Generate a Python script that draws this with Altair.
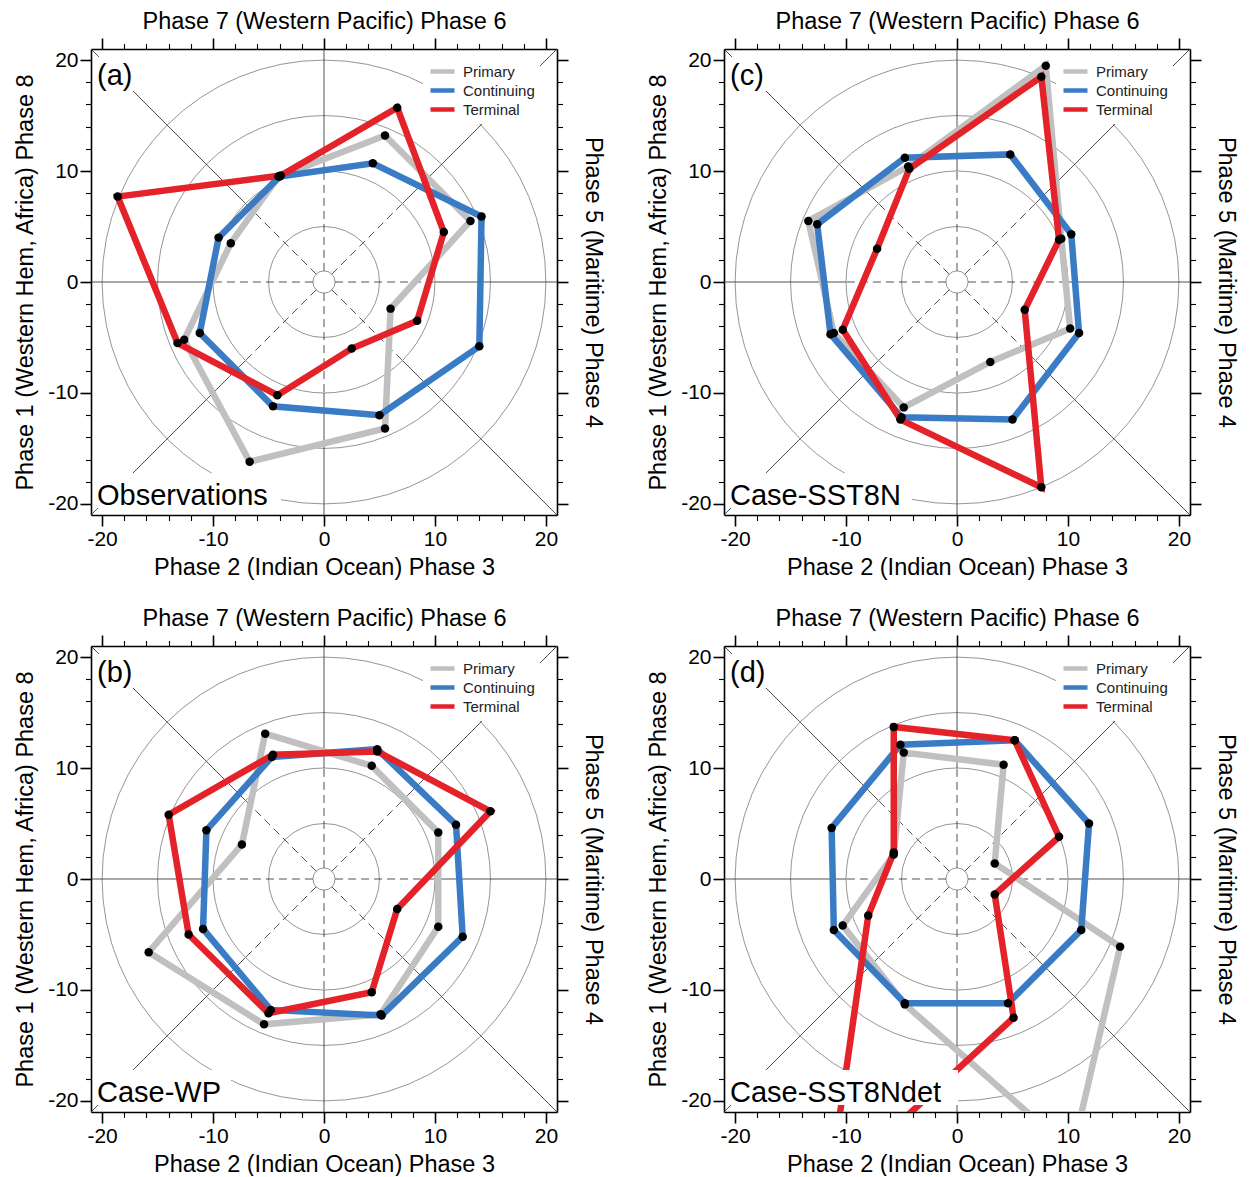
import math
import altair as alt
import pandas as pd

# ---------------- data ----------------
SERIES = ["Primary", "Continuing", "Terminal"]
SERIES_COLORS = ["#c0c0c0", "#3a7bc6", "#e3222a"]
PHASES = [1, 2, 3, 4, 5, 6, 7, 8]

# (a) Observations
A_PRIMARY_X = [-12.6, -6.7, 5.5, 6.0, 13.2, 5.5, -4.1, -8.4]
A_PRIMARY_Y = [-5.2, -16.2, -13.2, -2.4, 5.5, 13.2, 9.5, 3.5]
A_CONT_X = [-11.2, -4.6, 5.0, 14.0, 14.2, 4.4, -4.0, -9.5]
A_CONT_Y = [-4.6, -11.2, -12.0, -5.8, 5.9, 10.7, 9.5, 4.0]
A_TERM_X = [-13.2, -4.2, 2.5, 8.4, 10.8, 6.6, -3.9, -18.6]
A_TERM_Y = [-5.5, -10.2, -6.0, -3.5, 4.5, 15.7, 9.6, 7.7]

# (b) Case-WP
B_PRIMARY_X = [-15.8, -5.4, 5.1, 10.3, 10.3, 4.3, -5.3, -7.4]
B_PRIMARY_Y = [-6.6, -13.1, -12.2, -4.3, 4.2, 10.2, 13.1, 3.1]
B_CONT_X = [-10.9, -4.8, 5.2, 12.5, 11.9, 4.8, -4.7, -10.6]
B_CONT_Y = [-4.5, -11.8, -12.3, -5.2, 4.9, 11.7, 11.0, 4.4]
B_TERM_X = [-12.2, -5.0, 4.3, 6.6, 15.0, 4.8, -4.6, -14.0]
B_TERM_Y = [-5.0, -12.1, -10.2, -2.7, 6.1, 11.5, 11.2, 5.8]

# (c) Case-SST8N
C_PRIMARY_X = [-11.1, -4.8, 3.0, 10.2, 9.4, 8.0, -4.4, -13.4]
C_PRIMARY_Y = [-4.6, -11.3, -7.2, -4.2, 3.9, 19.5, 10.4, 5.5]
C_CONT_X = [-11.4, -5.0, 5.0, 11.0, 10.3, 4.8, -4.7, -12.6]
C_CONT_Y = [-4.7, -12.2, -12.4, -4.6, 4.3, 11.5, 11.2, 5.2]
C_TERM_X = [-10.3, -5.1, 7.6, 6.1, 9.2, 7.6, -4.3, -7.2]
C_TERM_Y = [-4.3, -12.4, -18.5, -2.5, 3.8, 18.5, 10.2, 3.0]

# (d) Case-SST8Ndet
D_PRIMARY_X = [-10.3, -4.7, 10.4, 14.7, 3.4, 4.2, -4.8, -5.7]
D_PRIMARY_Y = [-4.2, -11.3, -24.6, -6.1, 1.4, 10.3, 11.4, 2.2]
D_CONT_X = [-11.1, -4.7, 4.6, 11.2, 11.9, 5.2, -5.1, -11.3]
D_CONT_Y = [-4.6, -11.2, -11.2, -4.6, 5.0, 12.5, 12.1, 4.6]
D_TERM_X = [-8.0, -11.5, 5.1, 3.4, 9.2, 5.2, -5.7, -5.7]
D_TERM_Y = [-3.3, -27.8, -12.5, -1.4, 3.8, 12.5, 13.7, 2.4]

CIRCLE_RADII = [1, 5, 10, 15, 20]
TICK_VALUES = list(range(-20, 21, 2))

X_TITLE = "Phase 2 (Indian Ocean) Phase 3"
TOP_TITLE = "Phase 7 (Western Pacific) Phase 6"
Y_TITLE = "Phase 1 (Western Hem, Africa) Phase 8"
RIGHT_TITLE = "Phase 5 (Maritime) Phase 4"

PANELS = {
    "a": dict(tag="(a)", name="Observations", box=190,
              data=[(A_PRIMARY_X, A_PRIMARY_Y), (A_CONT_X, A_CONT_Y), (A_TERM_X, A_TERM_Y)]),
    "b": dict(tag="(b)", name="Case-WP", box=140,
              data=[(B_PRIMARY_X, B_PRIMARY_Y), (B_CONT_X, B_CONT_Y), (B_TERM_X, B_TERM_Y)]),
    "c": dict(tag="(c)", name="Case-SST8N", box=188,
              data=[(C_PRIMARY_X, C_PRIMARY_Y), (C_CONT_X, C_CONT_Y), (C_TERM_X, C_TERM_Y)]),
    "d": dict(tag="(d)", name="Case-SST8Ndet", box=234,
              data=[(D_PRIMARY_X, D_PRIMARY_Y), (D_CONT_X, D_CONT_Y), (D_TERM_X, D_TERM_Y)]),
}

# ---------------- styling ----------------
FONT = "Liberation Sans"
W = 466
LIM = 21
XS = alt.Scale(domain=[-LIM, LIM], nice=False, zero=False)
YS = alt.Scale(domain=[-LIM, LIM], nice=False, zero=False)
TICK_SIZE = {"condition": {"test": "datum.value % 10 === 0", "value": 11}, "value": 5.5}
TICK_WIDTH = {"condition": {"test": "datum.value % 10 === 0", "value": 1.6}, "value": 1.1}
LABEL_EXPR = "datum.value % 10 === 0 ? '' + datum.value : ''"


def make_axis(orient, title, labels, title_pad):
    kw = dict(orient=orient, values=TICK_VALUES, tickSize=TICK_SIZE, tickWidth=TICK_WIDTH,
              tickColor="black", grid=False, domain=True, domainColor="black", domainWidth=1.6,
              title=title, titleFont=FONT, titleFontSize=23.5, titleFontWeight="normal",
              titleColor="black", titlePadding=title_pad, labels=labels)
    if labels:
        kw.update(labelExpr=LABEL_EXPR, labelOverlap=False, labelFont=FONT, labelFontSize=21,
                  labelColor="black", labelPadding=2, labelFlush=False)
    return alt.Axis(**kw)


DIRS = [(1, 0), (1, 1), (0, 1), (-1, 1), (-1, 0), (-1, -1), (0, -1), (1, -1)]


def guide_frames():
    dash, solid = [], []
    for dx, dy in DIRS:
        n = math.hypot(dx, dy)
        ux, uy = dx / n, dy / n
        dash.append(dict(x1=ux * 1, y1=uy * 1, x2=ux * 10, y2=uy * 10))
        solid.append(dict(x1=ux * 10, y1=uy * 10, x2=dx * LIM, y2=dy * LIM))
    return pd.DataFrame(dash), pd.DataFrame(solid)


def series_frame(data):
    rows = []
    for s, (xv, yv) in zip(SERIES, data):
        for i, (x, y) in enumerate(zip(xv, yv)):
            rows.append(dict(series=s, phase=PHASES[i], order=i, x=x, y=y))
        rows.append(dict(series=s, phase=PHASES[0], order=len(xv), x=xv[0], y=yv[0]))
    return pd.DataFrame(rows)


def panel(key):
    p = PANELS[key]
    df = series_frame(p["data"])
    dash_df, solid_df = guide_frames()

    # reference circles: symbol diameter = sqrt(size); diameter in px = r * W / LIM
    circles = alt.Chart(pd.DataFrame({"r": CIRCLE_RADII})).mark_point(
        shape="circle", filled=False, color="#7a7a7a", strokeWidth=0.8, opacity=1
    ).encode(
        x=alt.XDatum(0, type="quantitative", scale=XS, axis=None),
        y=alt.YDatum(0, type="quantitative", scale=YS, axis=None),
        size=alt.Size("r:Q", scale=alt.Scale(type="pow", exponent=2, domain=[0, LIM],
                                             range=[0, W * W], zero=True), legend=None),
    )

    solid = alt.Chart(solid_df).mark_rule(color="#333333", strokeWidth=0.85).encode(
        x=alt.X("x1:Q", scale=XS, axis=make_axis("bottom", X_TITLE, True, 6)),
        y=alt.Y("y1:Q", scale=YS, axis=make_axis("left", Y_TITLE, True, 10)),
        x2="x2:Q", y2="y2:Q",
    )
    dashed = alt.Chart(dash_df).mark_rule(color="#333333", strokeWidth=0.85, strokeDash=[8, 5]).encode(
        x=alt.X("x1:Q", scale=XS, axis=make_axis("top", TOP_TITLE, False, 4)),
        y=alt.Y("y1:Q", scale=YS, axis=make_axis("right", RIGHT_TITLE, False, 12)),
        x2="x2:Q", y2="y2:Q",
    )

    legend = alt.Legend(orient="none", legendX=332, legendY=8, title=None, fillColor="white",
                        padding=5, symbolType="stroke", symbolSize=576, symbolStrokeWidth=4.5,
                        labelFontSize=15, labelFont=FONT, labelColor="#222222", labelOffset=6,
                        rowPadding=0, clipHeight=19, labelLimit=200)
    color = alt.Color("series:N", scale=alt.Scale(domain=SERIES, range=SERIES_COLORS), legend=legend)

    lines = []
    for s in SERIES:
        lines.append(
            alt.Chart(df).transform_filter(alt.datum.series == s).mark_line(
                strokeWidth=6.5, clip=True, strokeJoin="miter", strokeCap="butt"
            ).encode(
                x=alt.X("x:Q", scale=XS, axis=None),
                y=alt.Y("y:Q", scale=YS, axis=None),
                order="order:Q",
                color=color,
            )
        )

    dots = alt.Chart(df).transform_filter(alt.datum.order < 8).mark_circle(
        color="black", size=72, opacity=1, clip=True
    ).encode(
        x=alt.X("x:Q", scale=XS, axis=None),
        y=alt.Y("y:Q", scale=YS, axis=None),
    )

    lab = pd.DataFrame({"tag": [p["tag"]], "name": [p["name"]]})
    tag_box = alt.Chart(lab).mark_rect(color="white").encode(
        x=alt.value(3), x2=alt.value(43), y=alt.value(8), y2=alt.value(42))
    tag_txt = alt.Chart(lab).mark_text(align="left", baseline="alphabetic", font=FONT,
                                       fontSize=29, color="black").encode(
        x=alt.value(6), y=alt.value(36), text="tag:N")
    name_box = alt.Chart(lab).mark_rect(color="white").encode(
        x=alt.value(3), x2=alt.value(p["box"]), y=alt.value(424), y2=alt.value(459))
    name_txt = alt.Chart(lab).mark_text(align="left", baseline="alphabetic", font=FONT,
                                        fontSize=29, color="black").encode(
        x=alt.value(6), y=alt.value(456), text="name:N")

    return alt.layer(
        circles, solid, dashed, *lines, dots, tag_box, tag_txt, name_box, name_txt
    ).resolve_axis(x="independent", y="independent").properties(width=W, height=W)


top = alt.hconcat(panel("a"), panel("c"), spacing=40).resolve_scale(color="independent", size="independent")
bottom = alt.hconcat(panel("b"), panel("d"), spacing=40).resolve_scale(color="independent", size="independent")
chart = alt.vconcat(top, bottom, spacing=26).resolve_scale(color="independent", size="independent").properties(
    padding={"left": 5, "top": 0, "right": 0, "bottom": 0}
).configure_view(stroke="black", strokeWidth=1.6).configure(font=FONT)

chart.save("out.html", embed_options={"renderer": "svg", "actions": False})
